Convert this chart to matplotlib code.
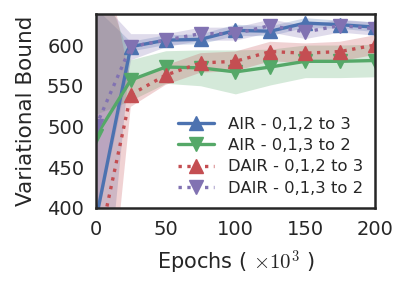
import matplotlib
matplotlib.use('Agg')
import matplotlib.pyplot as plt
import numpy as np
import seaborn as sns

sns.set_style('white')
plt.rcParams['mathtext.fontset'] = 'cm'

epochs = [0, 25, 50, 75, 100, 125, 150, 175, 200]

# mean curves and shaded band limits
air_123 = [385, 598, 606, 607, 618, 617, 627, 625, 622]
air_123_lo = [150, 592, 600, 601, 611, 611, 621, 620, 616]
air_123_hi = [645, 604, 612, 613, 625, 623, 633, 630, 628]

air_132 = [488, 557, 573, 572, 567, 573, 580, 580, 581]
air_132_lo = [515, 532, 553, 550, 540, 551, 560, 560, 561]
air_132_hi = [700, 582, 593, 594, 594, 595, 600, 600, 601]

dair_123 = [338, 539, 563, 578, 580, 592, 590, 592, 600]
dair_123_lo = [100, 524, 551, 566, 568, 580, 578, 580, 588]
dair_123_hi = [760, 554, 575, 590, 592, 604, 602, 604, 612]

dair_132 = [500, 598, 606, 614, 614, 624, 616, 624, 620]
dair_132_lo = [380, 582, 598, 606, 606, 616, 608, 616, 612]
dair_132_hi = [660, 614, 614, 622, 622, 632, 624, 632, 628]

labels = ['AIR - 0,1,2 to 3', 'AIR - 0,1,3 to 2', 'DAIR - 0,1,2 to 3', 'DAIR - 0,1,3 to 2']
colors = ['#4C72B0', '#55A868', '#C44E52', '#8172B2']
markers = ['^', 'v', '^', 'v']
styles = ['-', '-', ':', ':']

fig = plt.figure(figsize=(4.08, 2.94), dpi=100)
ax = fig.add_axes([0.235, 0.293, 0.684, 0.659])

series = [(air_123, air_123_lo, air_123_hi), (air_132, air_132_lo, air_132_hi),
          (dair_123, dair_123_lo, dair_123_hi), (dair_132, dair_132_lo, dair_132_hi)]
for (m, lo, hi), lab, c, mk, ls in zip(series, labels, colors, markers, styles):
    ax.fill_between(epochs, lo, hi, color=c, alpha=0.25, lw=0)
    ax.plot(epochs, m, color=c, marker=mk, ls=ls, lw=2.4, ms=9.5, label=lab)

ax.set_xlim(0, 200)
ax.set_ylim(400, 638)
ax.set_xticks([0, 50, 100, 150, 200])
ax.set_yticks([400, 450, 500, 550, 600])
ax.tick_params(labelsize=14, colors='#262626', pad=5)
for sp in ax.spines.values():
    sp.set_linewidth(1.8)
    sp.set_color('#262626')

ax.set_xlabel(r'Epochs ( $\times 10^3$ )', fontsize=15, color='#262626', labelpad=7)
ax.set_ylabel('Variational Bound', fontsize=15.5, color='#262626', labelpad=8)

ax.legend(loc='lower right', fontsize=11.8, frameon=False, numpoints=1,
          handlelength=2.2, labelspacing=0.38, borderaxespad=0.35, handletextpad=0.8)

fig.savefig('out.png', dpi=100)
